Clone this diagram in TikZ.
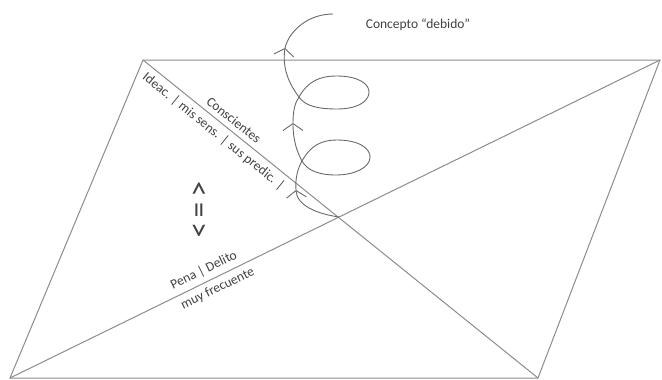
\documentclass[tikz,border=0pt]{standalone}
\usepackage{fontspec}
\setmainfont{Carlito}
\usetikzlibrary{arrows.meta}
\definecolor{edgegray}{RGB}{140,140,140}
\definecolor{coilgray}{RGB}{105,105,105}
\definecolor{txtgray}{RGB}{65,65,65}
\tikzset{
  edge/.style={draw=edgegray, line width=1pt},
  coil/.style={draw=coilgray, line width=0.9pt},
  coilarrow/.style={coil, -{Straight Barb[length=7pt,width=20pt,line width=0.9pt]}},
  lbl/.style={text=txtgray, font=\fontsize{13.5}{15}\selectfont, inner sep=2pt},
}
\begin{document}
\begin{tikzpicture}[x=1pt,y=-1pt]
\useasboundingbox (0,0) rectangle (662,380);
% parallelogram corners
\coordinate (TL) at (143,60);
\coordinate (TR) at (660,60);
\coordinate (BR) at (538,378);
\coordinate (BL) at (10,378);
\draw[edge] (TL) -- (TR) -- (BR) -- (BL) -- cycle;
\draw[edge] (TL) -- (BR)
  node[lbl, pos=0.214, sloped, above=3pt] (consc) {Conscientes}
  node[lbl, pos=0.197, sloped, below=3pt] (ideac) {Ideac. | mis sens. | sus predic. |};
\draw[edge] (BL) -- (TR)
  node[lbl, pos=0.306, sloped, above=3pt] (pena) {Pena | Delito}
  node[lbl, pos=0.312, sloped, below=3pt] (muy) {muy frecuente};
% centre crossing
\coordinate (X) at (339,217);
% coil coordinates
\coordinate (a1) at (296,190);
\coordinate (c1) at (302,161);
\coordinate (a2) at (293,123);
\coordinate (c2) at (299,97);
\coordinate (a3) at (285,48);
\coordinate (top) at (333,14);
\draw[coilarrow] (X) .. controls (318,214) and (297,206) .. (a1);
\draw[coilarrow] (a1) .. controls (295,178) and (298,168) .. (c1)
  .. controls (311,145) and (322,140) .. (337,140)
  .. controls (358,140) and (371,148) .. (370,158)
  .. controls (369,168) and (354,175) .. (336,175)
  .. controls (318,175) and (307,170) .. (c1)
  .. controls (297,152) and (293,140) .. (a2);
\draw[coilarrow] (a2) .. controls (293,110) and (295,103) .. (c2)
  .. controls (308,81) and (320,76) .. (337,76)
  .. controls (358,76) and (370,84) .. (369,93)
  .. controls (368,103) and (355,109) .. (337,109)
  .. controls (318,109) and (305,106) .. (c2)
  .. controls (289,84) and (282,68) .. (a3);
\draw[coil] (a3) .. controls (289,31) and (308,14) .. (top);
% labels
\node[lbl] (concepto) at (418,25) {Concepto “debido”};
\node[lbl, font=\fontsize{31}{31}\selectfont, rotate=-90] (equiv) at (198,210) {<\,=\,>};
\end{tikzpicture}
\end{document}
